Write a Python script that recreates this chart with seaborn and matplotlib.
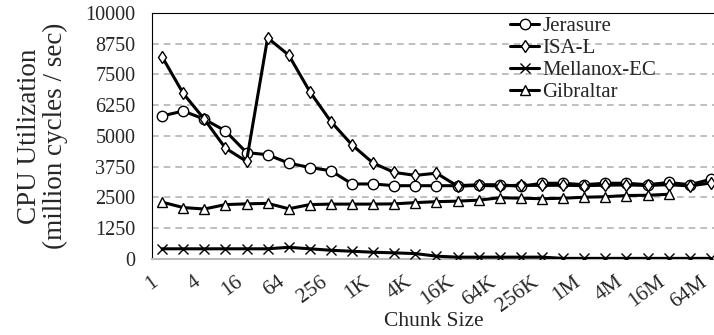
import numpy as np
import pandas as pd
import seaborn as sns
import matplotlib
matplotlib.use('Agg')
import matplotlib.pyplot as plt
from matplotlib.ticker import NullFormatter

# chunk sizes (bytes) and their labels
K = 1024
M = 1024 * 1024
chunk_sizes = [1, 2, 4, 8, 16, 32, 64, 128, 256, 512,
               1 * K, 2 * K, 4 * K, 8 * K, 16 * K, 32 * K, 64 * K, 128 * K, 256 * K, 512 * K,
               1 * M, 2 * M, 4 * M, 8 * M, 16 * M, 32 * M, 64 * M]
tick_sizes = [1, 4, 16, 64, 256, 1 * K, 4 * K, 16 * K, 64 * K, 256 * K, 1 * M, 4 * M, 16 * M, 64 * M]
tick_labels = ['1', '4', '16', '64', '256', '1K', '4K', '16K', '64K', '256K', '1M', '4M', '16M', '64M']

# CPU utilization (million cycles / sec)
jerasure = [5810, 6010, 5680, 5200, 4320, 4230, 3890, 3710, 3580, 3040,
            3040, 2970, 2970, 2970, 2970, 3010, 3010, 2940, 3070, 3070,
            3010, 3070, 3070, 3010, 3100, 3010, 3230]
isal = [8220, 6730, 5680, 4500, 3960, 8990, 8290, 6800, 5580, 4630,
        3890, 3510, 3390, 3480, 2950, 2980, 2960, 2990, 2980, 2990,
        2970, 2990, 3000, 2980, 3010, 2960, 3080]
mellanox = [400, 400, 400, 400, 400, 400, 460, 400, 340, 300,
            260, 235, 205, 100, 60, 60, 60, 60, 60, 10,
            10, 10, 10, 10, 10, 10, 10]
gibraltar = [2300, 2080, 2020, 2200, 2230, 2250, 2030, 2200, 2220, 2220,
             2220, 2230, 2280, 2320, 2340, 2380, 2480, 2460, 2440, 2460,
             2500, 2520, 2570, 2580, 2620]

sns.set_style('white')
plt.rcParams['font.family'] = ['Liberation Serif', 'DejaVu Serif']

fig = plt.figure(figsize=(7.14, 3.35), dpi=100)
ax = fig.add_axes([0.213, 0.228, 0.79, 0.733])

series = [('Jerasure', jerasure, 'o', 7.5),
          ('ISA-L', isal, 'd', 6.5),
          ('Mellanox-EC', mellanox, 'x', 7),
          ('Gibraltar', gibraltar, '^', 6.5)]
for name, vals, mk, ms in series:
    sns.lineplot(x=chunk_sizes[:len(vals)], y=vals, ax=ax, label=name,
                 color='black', linewidth=2.2, marker=mk, markersize=ms,
                 markerfacecolor='white', markeredgecolor='black',
                 markeredgewidth=1.0, zorder=3)

ax.set_xscale('log', base=2)
ax.set_xlim(0.72, 64 * M * 1.19)
ax.set_ylim(0, 10000)
ax.set_yticks([0, 1250, 2500, 3750, 5000, 6250, 7500, 8750, 10000])
ax.set_xticks(tick_sizes)
ax.set_xticklabels(tick_labels, rotation=36, ha='right')
ax.set_xticks(chunk_sizes, minor=True)
ax.xaxis.set_minor_formatter(NullFormatter())
ax.tick_params(axis='x', which='both', length=4, color='#bbbbbb', labelsize=15.5, pad=6)
ax.tick_params(axis='y', length=0, labelsize=14.5, pad=12)

ax.yaxis.grid(True, linestyle=(0, (4, 3)), color='#b4b4b4', linewidth=1.2)
ax.set_axisbelow(True)
ax.spines['right'].set_visible(False)
ax.spines['top'].set_color('black')
ax.spines['left'].set_color('black')
ax.spines['bottom'].set_color('#bbbbbb')
ax.spines['bottom'].set_linewidth(1.5)

ax.set_xlabel('Chunk Size', fontsize=15.5, labelpad=-3)
ax.set_ylabel('CPU Utilization\n(million cycles / sec)', fontsize=19.5, linespacing=1.05)
ax.yaxis.set_label_coords(-0.149, 0.5)

ax.legend(loc='upper left', bbox_to_anchor=(0.62, 1.02), frameon=False,
          fontsize=15, handlelength=1.4, handletextpad=0.15,
          labelspacing=0.12, borderaxespad=0)

fig.savefig('out.png', dpi=100)
